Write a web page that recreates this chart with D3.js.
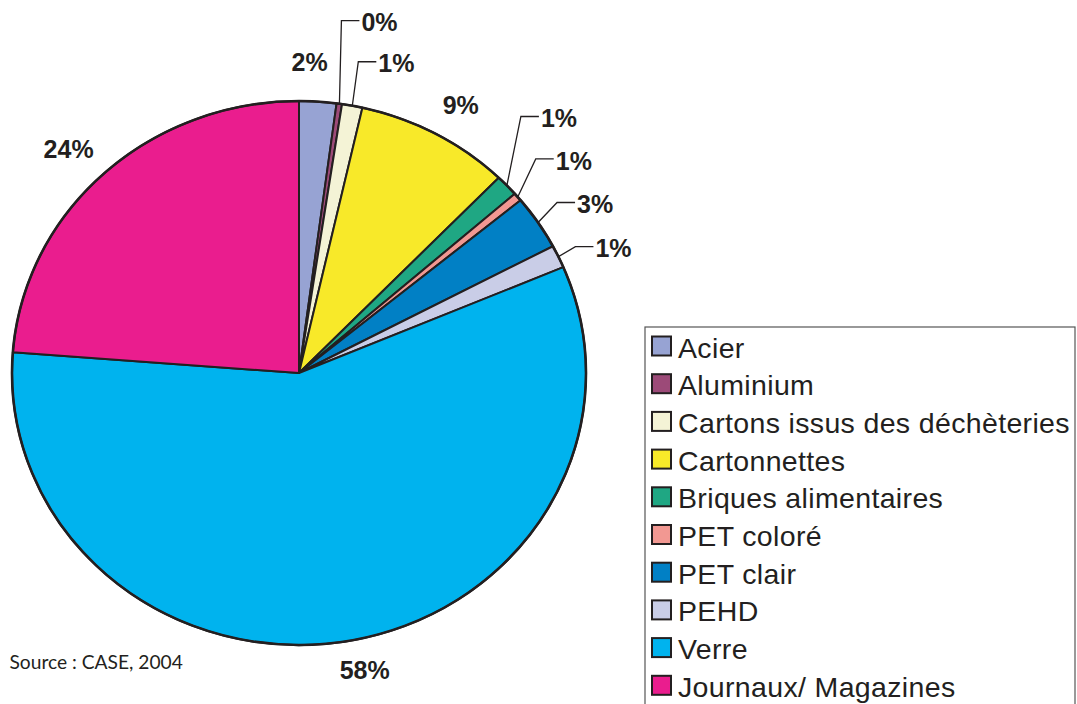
<!DOCTYPE html>
<html>
<head>
<meta charset="utf-8">
<script src="https://cdn.jsdelivr.net/npm/d3@7"></script>
<style>
  html, body { margin: 0; padding: 0; background: #fff; }
  svg { display: block; }
</style>
</head>
<body>
<svg id="chart" width="1077" height="704"></svg>
<script>
// ---- data ----
const categories = ["Acier", "Aluminium", "Cartons issus des déchèteries", "Cartonnettes",
  "Briques alimentaires", "PET coloré", "PET clair", "PEHD", "Verre", "Journaux/ Magazines"];
const values = [2.1, 0.3, 1.15, 8.7, 1.3, 0.5, 3.25, 1.35, 57.6, 23.8];
const valueLabels = ["2%", "0%", "1%", "9%", "1%", "1%", "3%", "1%", "58%", "24%"];
const colors = ["#97a3d3", "#9c4a78", "#f4f3d6", "#f8e929", "#1fa783", "#f29892",
  "#0180c5", "#c9cde7", "#00b3ee", "#ea1d8e"];
const sourceText = "Source : CASE, 2004";

// ---- layout (not data) ----
const cx = 299, cy = 373, rx = 287, ry = 272;
// leader-line labels: elbow offset from slice edge point (null = plain outside label)
const leaderOffsets = [null, [2, -83], [6, -44], null, [14, -69], [18, -38], [19, -20], [17, -10], null, null];
const labelNudges = [[-11, -2], null, null, [6, 5], null, null, null, null, [13, -9], [-8, 3]];
const leaderLen = 18;
const labelRadius = 1.14;

const svg = d3.select("#chart");
const ink = "#231f20";

const pie = d3.pie().sort(null).value(d => d)(values);
const arc = d3.arc().innerRadius(0).outerRadius(1);

const pieG = svg.append("g").attr("transform", `translate(${cx},${cy}) scale(${rx},${ry})`);
pieG.selectAll("path.slice").data(pie).join("path")
  .attr("class", "slice")
  .attr("d", arc)
  .attr("fill", (d, i) => colors[i])
  .attr("stroke", ink)
  .attr("stroke-width", 2)
  .attr("stroke-linejoin", "round")
  .attr("vector-effect", "non-scaling-stroke");
pieG.append("ellipse").attr("cx", 0).attr("cy", 0).attr("rx", 1).attr("ry", 1)
  .attr("fill", "none").attr("stroke", ink).attr("stroke-width", 2.6)
  .attr("vector-effect", "non-scaling-stroke");

const pt = (a, k) => [cx + rx * k * Math.sin(a), cy - ry * k * Math.cos(a)];

const lblG = svg.append("g")
  .attr("font-family", "'Liberation Sans', Arial, Helvetica, sans-serif")
  .attr("font-weight", "bold").attr("font-size", 25).attr("fill", ink);

pie.forEach((d, i) => {
  const mid = (d.startAngle + d.endAngle) / 2;
  if (leaderOffsets[i]) {
    const s = pt(mid, 1);
    const e = [s[0] + leaderOffsets[i][0], s[1] + leaderOffsets[i][1]];
    const f = [e[0] + leaderLen, e[1]];
    svg.append("polyline")
      .attr("points", [s, e, f].map(p => p.join(",")).join(" "))
      .attr("fill", "none").attr("stroke", ink).attr("stroke-width", 1.3);
    lblG.append("text").attr("x", f[0] + 2).attr("y", f[1] + 4)
      .attr("dominant-baseline", "middle").text(valueLabels[i]);
  } else {
    const p = pt(mid, labelRadius);
    const n = labelNudges[i] || [0, 0];
    lblG.append("text").attr("x", p[0] + n[0]).attr("y", p[1] + n[1])
      .attr("text-anchor", "middle").attr("dominant-baseline", "central")
      .text(valueLabels[i]);
  }
});

// ---- legend ----
const legX = 645, legY = 327, legRowY0 = 346, legStep = 37.7;
svg.append("rect").attr("x", legX).attr("y", legY).attr("width", 430).attr("height", 420)
  .attr("fill", "#fff").attr("stroke", "#555").attr("stroke-width", 1.2);
const legRows = svg.append("g").selectAll("g").data(categories).join("g")
  .attr("transform", (d, i) => `translate(0,${legRowY0 + i * legStep})`);
legRows.append("rect").attr("x", 652).attr("y", -9.5).attr("width", 19).attr("height", 19)
  .attr("fill", (d, i) => colors[i]).attr("stroke", ink).attr("stroke-width", 2);
legRows.append("text").attr("x", 678).attr("y", 11.5)
  .attr("font-family", "'Liberation Sans', Arial, Helvetica, sans-serif")
  .attr("font-size", 28.5).attr("letter-spacing", 0.35).attr("fill", ink)
  .text(d => d);

// ---- source ----
svg.append("text").attr("x", 9.5).attr("y", 669)
  .attr("font-family", "Lato, 'Open Sans', sans-serif")
  .attr("font-size", 19.2).attr("fill", ink).text(sourceText);
</script>
</body>
</html>
